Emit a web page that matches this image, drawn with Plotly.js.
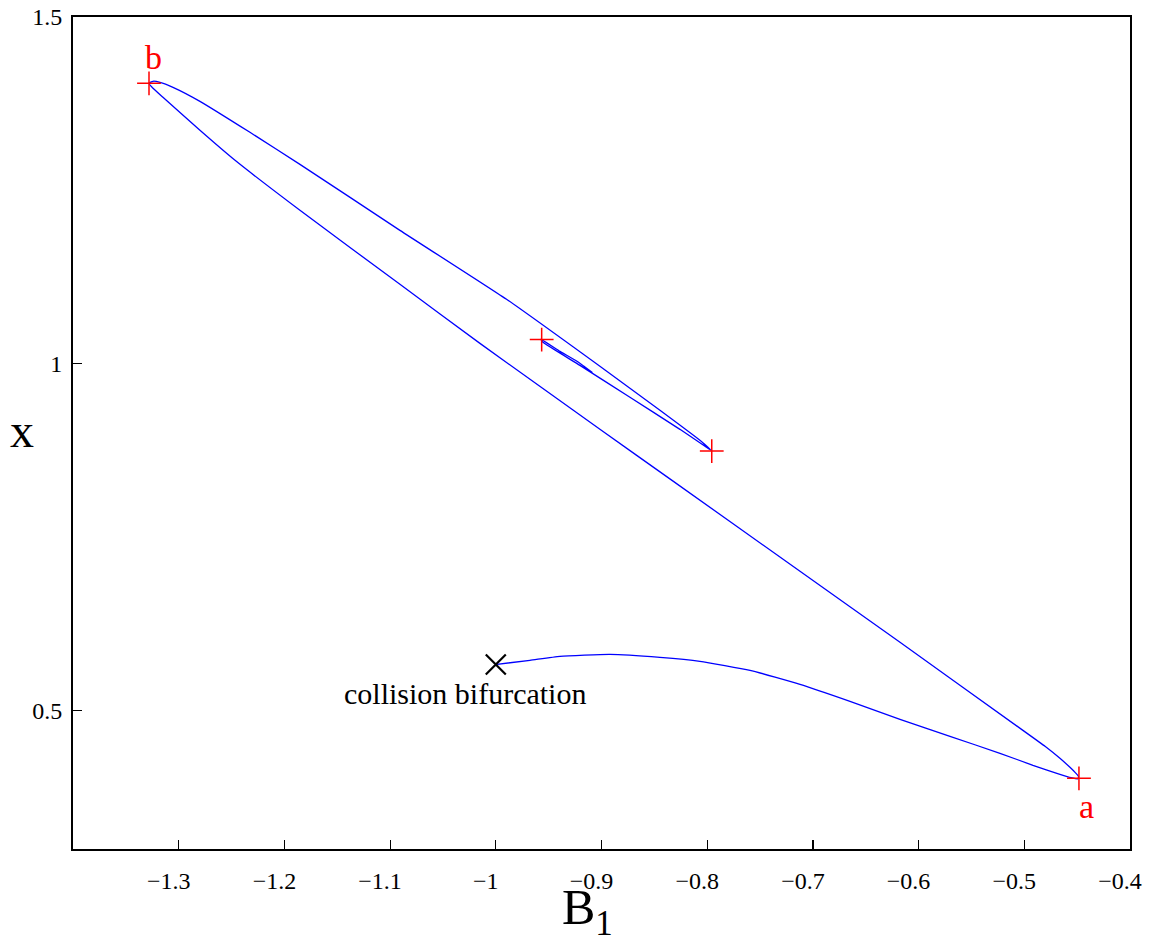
<!DOCTYPE html>
<html>
<head>
<meta charset="utf-8">
<script src="https://cdn.plot.ly/plotly-3.0.1.min.js"></script>
<style>
  html, body { margin: 0; padding: 0; background: #ffffff; }
  #chart { width: 1154px; height: 940px; }
</style>
</head>
<body>
<div id="chart"></div>
<script>
// ---- Data ----
// continuation branch: from the collision bifurcation, to turning point a,
// up to turning point b, and spiralling into the inner loop
const branchB1 = [
  -0.9989, -0.9677, -0.9393, -0.8920, -0.8447, -0.8069, -0.7595, -0.7122, -0.6649,
  -0.6176, -0.5703, -0.5230, -0.4918, -0.4663, -0.4558, -0.4492,
  -0.4487, -0.4511, -0.4568, -0.4663, -0.4804, -0.5013, -0.6176, -0.7122, -0.8333, -0.9015, -1.0150,
  -1.0907, -1.1853, -1.2467, -1.2799, -1.3149, -1.3243, -1.3281,
  -1.3243, -1.3177, -1.3054, -1.2799, -1.2326, -1.1853, -1.0907, -0.9885, -0.9015,
  -0.8447, -0.8069, -0.7965,
  -0.8021, -0.8258, -0.8731, -0.9204, -0.9554, -0.9573,
  -0.9393, -0.9232, -0.9090, -0.9166
];
const branchX = [
  0.5663, 0.5721, 0.5779, 0.5808, 0.5764, 0.5707, 0.5577, 0.5375, 0.5130,
  0.4870, 0.4625, 0.4380, 0.4207, 0.4077, 0.4029, 0.4012,
  0.4048, 0.4091, 0.4178, 0.4308, 0.4481, 0.4711, 0.5981, 0.7005, 0.8317, 0.9053, 1.0293,
  1.1144, 1.2212, 1.2933, 1.3366, 1.3842, 1.3972, 1.4044,
  1.4073, 1.4058, 1.3986, 1.3784, 1.3337, 1.2875, 1.1923, 1.0914, 0.9962,
  0.9327, 0.8894, 0.8750,
  0.8808, 0.9053, 0.9515, 0.9976, 1.0308, 1.0351,
  1.0178, 1.0034, 0.9875, 0.9962
];

// turning points (fold points) marked with red crosses
const foldB1 = [-0.4483, -1.3281, -0.9566, -0.7957];
const foldX  = [0.4019, 1.4044, 1.0347, 0.8740];
const foldLabels = ["a", "b"];

// collision bifurcation point
const collisionB1 = [-1.0];
const collisionX = [0.566];
const collisionLabel = "collision bifurcation";

// axis ticks
const xTickVals = [-1.3, -1.2, -1.1, -1.0, -0.9, -0.8, -0.7, -0.6, -0.5, -0.4];
const xTickText = ["\u22121.3", "\u22121.2", "\u22121.1", "\u22121", "\u22120.9", "\u22120.8", "\u22120.7", "\u22120.6", "\u22120.5", "\u22120.4"];
const yTickVals = [0.5, 1.0, 1.5];
const yTickText = ["0.5", "1", "1.5"];

// ---- Plot ----
const serif = 'Liberation Serif, DejaVu Serif, serif';
const xRange = [-1.4, -0.4];
// the reference prints the x tick labels about 10 px left of their ticks:
// a label-only overlay axis with its range nudged by that amount
const labelNudge = 10 / 1057 * (xRange[1] - xRange[0]);

const traces = [
  {
    x: branchB1, y: branchX, type: 'scatter', mode: 'lines',
    line: { color: '#0000ff', width: 1.3, shape: 'spline', smoothing: 0.45 },
    hoverinfo: 'skip', showlegend: false
  },
  {
    x: foldB1, y: foldX, type: 'scatter', mode: 'markers',
    marker: { symbol: 'cross-thin', size: 17, line: { color: '#ff0000', width: 1.5 } },
    hoverinfo: 'skip', showlegend: false
  },
  {
    x: collisionB1, y: collisionX, type: 'scatter', mode: 'markers',
    marker: { symbol: 'x-thin', size: 20, line: { color: '#000000', width: 2.2 } },
    hoverinfo: 'skip', showlegend: false
  },
  {
    x: [], y: [], xaxis: 'x2', yaxis: 'y', type: 'scatter', mode: 'markers',
    hoverinfo: 'skip', showlegend: false
  }
];

const annotations = [
  { x: foldB1[0], y: foldX[0], xref: 'x', yref: 'y', text: foldLabels[0], showarrow: false,
    xshift: 8, yshift: -28, font: { family: serif, size: 34, color: '#ff0000' } },
  { x: foldB1[1], y: foldX[1], xref: 'x', yref: 'y', text: foldLabels[1], showarrow: false,
    xshift: 4, yshift: 26, font: { family: serif, size: 34, color: '#ff0000' } },
  { x: collisionB1[0], y: collisionX[0], xref: 'x', yref: 'y', text: collisionLabel, showarrow: false,
    xshift: -31, yshift: -29, font: { family: serif, size: 30, color: '#000000' } },
  { x: 0.487, y: -0.075, xref: 'paper', yref: 'paper', text: 'B<sub>1</sub>', showarrow: false,
    xanchor: 'center', yanchor: 'middle', font: { family: serif, size: 50, color: '#000000' } },
  { x: -0.048, y: 0.503, xref: 'paper', yref: 'paper', text: 'x', showarrow: false,
    xanchor: 'center', yanchor: 'middle', font: { family: serif, size: 48, color: '#000000' } }
];

const layout = {
  width: 1154, height: 940,
  margin: { l: 73, r: 24, t: 17, b: 91, pad: 0 },
  paper_bgcolor: '#ffffff', plot_bgcolor: '#ffffff',
  showlegend: false,
  font: { family: serif, size: 24, color: '#000000' },
  xaxis: {
    range: xRange, tickvals: xTickVals, showticklabels: false,
    ticks: 'inside', ticklen: 9, tickwidth: 1.2, tickcolor: '#000000',
    showline: true, linecolor: '#000000', linewidth: 2, mirror: true,
    showgrid: false, zeroline: false
  },
  xaxis2: {
    overlaying: 'x', anchor: 'y', side: 'bottom',
    range: [xRange[0] + labelNudge, xRange[1] + labelNudge],
    tickvals: xTickVals, ticktext: xTickText, ticks: '',
    showline: false, showgrid: false, zeroline: false,
    tickfont: { family: serif, size: 24, color: '#000000' },
    ticklabelstandoff: 15
  },
  yaxis: {
    range: [0.3, 1.5], tickvals: yTickVals, ticktext: yTickText,
    ticks: 'inside', ticklen: 9, tickwidth: 1.2, tickcolor: '#000000',
    showline: true, linecolor: '#000000', linewidth: 2, mirror: true,
    showgrid: false, zeroline: false,
    tickfont: { family: serif, size: 24, color: '#000000' },
    ticklabelstandoff: 4
  },
  annotations: annotations
};

Plotly.newPlot('chart', traces, layout, { displayModeBar: false, staticPlot: true });
</script>
</body>
</html>
